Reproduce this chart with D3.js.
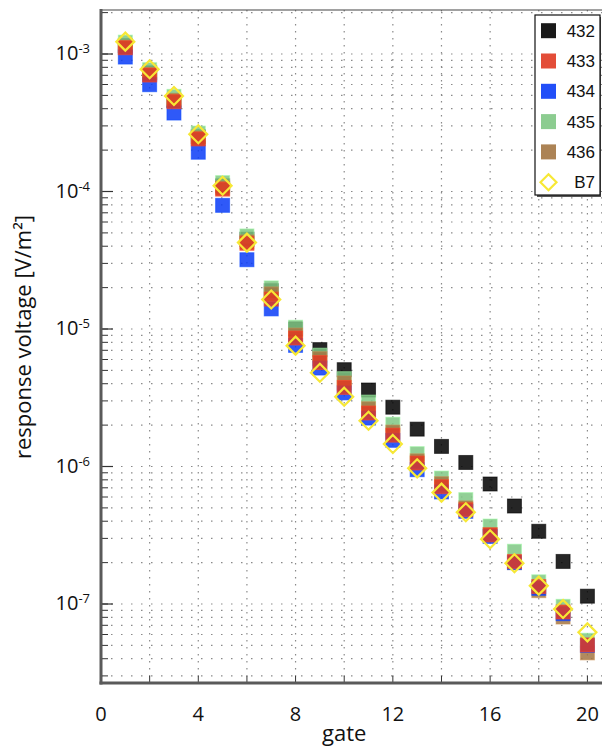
<!DOCTYPE html>
<html>
<head>
<meta charset="utf-8">
<script src="https://cdn.jsdelivr.net/npm/d3@7"></script>
<style>
  html, body { margin: 0; padding: 0; background: #fff; }
  svg { display: block; }
</style>
</head>
<body>
<svg id="chart" width="602" height="750"></svg>
<script>
// Gate numbers and the measured response per station
const gates = [1, 2, 3, 4, 5, 6, 7, 8, 9, 10, 11, 12, 13, 14, 15, 16, 17, 18, 19, 20];

const s432 = [1.15e-3, 7.3e-4, 4.6e-4, 2.5e-4, 1.1e-4, 4.5e-5, 1.9e-5, 1.0e-5, 7.08e-6, 5.06e-6,
              3.6e-6, 2.7e-6, 1.87e-6, 1.40e-6, 1.07e-6, 7.46e-7, 5.16e-7, 3.38e-7, 2.04e-7, 1.14e-7];
const s433 = [1.11e-3, 7.03e-4, 4.50e-4, 2.41e-4, 1.04e-4, 4.2e-5, 1.65e-5, 8.6e-6, 5.7e-6, 3.76e-6,
              2.45e-6, 1.69e-6, 1.06e-6, 7.13e-7, 4.85e-7, 3.18e-7, 2.04e-7, 1.34e-7, 8.75e-8, 5.04e-8];
const s434 = [9.5e-4, 5.98e-4, 3.72e-4, 1.93e-4, 7.93e-5, 3.19e-5, 1.40e-5, 7.6e-6, 5.2e-6, 3.43e-6,
              2.25e-6, 1.55e-6, 9.48e-7, 6.53e-7, 4.72e-7, 3.1e-7, 2.0e-7, 1.3e-7, 8.5e-8, 5.0e-8];
const s435 = [1.22e-3, 7.69e-4, 4.92e-4, 2.66e-4, 1.16e-4, 4.75e-5, 1.99e-5, 1.03e-5, 6.45e-6, 4.35e-6,
              2.94e-6, 2.03e-6, 1.24e-6, 8.24e-7, 5.74e-7, 3.69e-7, 2.42e-7, 1.45e-7, 9.62e-8, 5.45e-8];
const s436 = [1.12e-3, 7.1e-4, 4.6e-4, 2.45e-4, 1.06e-4, 4.3e-5, 1.80e-5, 9.04e-6, 6.08e-6, 4.05e-6,
              2.63e-6, 1.78e-6, 1.1e-6, 7.5e-7, 5.0e-7, 3.2e-7, 2.0e-7, 1.25e-7, 8.04e-8, 4.41e-8];
const sB7  = [1.23e-3, 7.74e-4, 4.95e-4, 2.61e-4, 1.10e-4, 4.25e-5, 1.64e-5, 7.57e-6, 4.81e-6, 3.22e-6,
              2.15e-6, 1.46e-6, 9.7e-7, 6.46e-7, 4.65e-7, 2.96e-7, 1.98e-7, 1.36e-7, 9.2e-8, 6.22e-8];

const legendNames = ["432", "433", "434", "435", "436", "B7"];
const xTickLabels = [0, 4, 8, 12, 16, 20];
const yDecades = [-3, -4, -5, -6, -7];

// Series in drawing order (bottom layer first)
const series = [
  { name: "432", values: s432, color: "#000000", kind: "square" },
  { name: "435", values: s435, color: "#7fc784", kind: "square" },
  { name: "436", values: s436, color: "#a37543", kind: "square" },
  { name: "434", values: s434, color: "#0a3cf7", kind: "square" },
  { name: "433", values: s433, color: "#e03a22", kind: "square" },
  { name: "B7",  values: sB7,  color: "#f7e835", kind: "diamond" }
];
const seriesByName = {};
series.forEach(s => seriesByName[s.name] = s);

const svg = d3.select("#chart");
const plotL = 101, plotR = 602, plotT = 10, plotB = 683;

const x = d3.scaleLinear().domain([0, 20.6]).range([plotL, plotR]);
const y = d3.scaleLog().domain([Math.pow(10, -7.5745), Math.pow(10, -2.68)]).range([plotB, plotT]);

// Minor tick values: 1..9 x 10^k over the visible range
const minorVals = [];
for (let e = -8; e <= -3; e++) {
  for (let m = 1; m <= 9; m++) {
    const v = m * Math.pow(10, e);
    if (v >= y.domain()[0] && v <= y.domain()[1]) minorVals.push(v);
  }
}

// Dotted grid
const grid = svg.append("g").attr("class", "grid");
grid.selectAll("line.h").data(minorVals).join("line")
  .attr("x1", plotL).attr("x2", plotR)
  .attr("y1", d => y(d)).attr("y2", d => y(d))
  .attr("stroke", "#8a8a8a").attr("stroke-width", 1.2)
  .attr("stroke-dasharray", "1.5,8.5");
const xGridVals = d3.range(2, 21, 2);
grid.selectAll("line.v").data(xGridVals).join("line")
  .attr("x1", d => x(d)).attr("x2", d => x(d))
  .attr("y1", plotT).attr("y2", plotB)
  .attr("stroke", "#8a8a8a").attr("stroke-width", 1.2)
  .attr("stroke-dasharray", "1.5,5.5");

// Markers
const size = 14;
series.forEach(s => {
  const g = svg.append("g").attr("class", "series-" + s.name);
  const pts = gates.map((gt, i) => ({ g: gt, v: s.values[i] }));
  if (s.kind === "square") {
    g.selectAll("rect").data(pts).join("rect")
      .attr("x", d => x(d.g) - size / 2)
      .attr("y", d => y(d.v) - size / 2)
      .attr("width", size).attr("height", size)
      .attr("fill", s.color).attr("fill-opacity", 0.85)
      .attr("stroke", d3.color(s.color).brighter(0.6)).attr("stroke-opacity", 0.6)
      .attr("stroke-width", 1);
  } else {
    const r = 9;
    g.selectAll("path").data(pts).join("path")
      .attr("d", d => {
        const cx = x(d.g), cy = y(d.v);
        return `M${cx},${cy - r}L${cx + r},${cy}L${cx},${cy + r}L${cx - r},${cy}Z`;
      })
      .attr("fill", "none").attr("stroke", s.color).attr("stroke-width", 2.2);
  }
});

// Axes
const yMajor = yDecades.map(e => Math.pow(10, e));
const axisL = svg.append("g");
axisL.selectAll("line.minor").data(minorVals).join("line")
  .attr("x1", plotL).attr("x2", plotL + 7)
  .attr("y1", d => y(d)).attr("y2", d => y(d))
  .attr("stroke", "#333").attr("stroke-width", 1);
axisL.selectAll("line.major").data(yMajor).join("line")
  .attr("x1", plotL).attr("x2", plotL + 12)
  .attr("y1", d => y(d)).attr("y2", d => y(d))
  .attr("stroke", "#333").attr("stroke-width", 1.2);

const axisB = svg.append("g");
axisB.selectAll("line").data(d3.range(2, 21, 2)).join("line")
  .attr("x1", d => x(d)).attr("x2", d => x(d))
  .attr("y1", plotB).attr("y2", plotB - 7)
  .attr("stroke", "#333").attr("stroke-width", 1);

// Frame
svg.append("line").attr("x1", plotL).attr("x2", plotR).attr("y1", plotT).attr("y2", plotT)
  .attr("stroke", "#444").attr("stroke-width", 1.2);
svg.append("line").attr("x1", plotL).attr("x2", plotL).attr("y1", plotT - 1).attr("y2", plotB + 1.5)
  .attr("stroke", "#5a5a5a").attr("stroke-width", 3);
svg.append("line").attr("x1", plotL - 1.5).attr("x2", plotR).attr("y1", plotB).attr("y2", plotB)
  .attr("stroke", "#5a5a5a").attr("stroke-width", 3);

// Tick labels
const labelFont = "'Open Sans', 'Noto Sans', sans-serif";
svg.append("g").selectAll("text").data(xTickLabels).join("text")
  .attr("x", d => x(d)).attr("y", 721)
  .attr("text-anchor", "middle")
  .attr("font-family", labelFont).attr("font-size", 20).attr("fill", "#111")
  .text(d => d);

const yl = svg.append("g").selectAll("text").data(yDecades).join("text")
  .attr("x", 90).attr("y", d => y(Math.pow(10, d)) + 6)
  .attr("text-anchor", "end")
  .attr("font-family", labelFont).attr("font-size", 20).attr("fill", "#111");
yl.append("tspan").text("10");
yl.append("tspan").attr("dy", -7).attr("font-size", 13).text(d => "-" + Math.abs(d));

// Axis titles
svg.append("text").attr("x", x(10)).attr("y", 741)
  .attr("text-anchor", "middle")
  .attr("font-family", labelFont).attr("font-size", 22).attr("fill", "#111")
  .text("gate");
svg.append("text")
  .attr("transform", `translate(31, 337) rotate(-90)`)
  .attr("text-anchor", "middle")
  .attr("font-family", labelFont).attr("font-size", 22).attr("fill", "#111")
  .text("response voltage [V/m²]");

// Legend
const lg = svg.append("g");
lg.append("rect").attr("x", 537).attr("y", 17).attr("width", 64).attr("height", 180)
  .attr("fill", "#555");
lg.append("rect").attr("x", 535).attr("y", 15).attr("width", 65).attr("height", 180)
  .attr("fill", "#fff").attr("stroke", "#111").attr("stroke-width", 1.2);
legendNames.forEach((n, i) => {
  const s = seriesByName[n];
  const cy = 30.7 + i * 30.3;
  if (s.kind === "square") {
    lg.append("rect").attr("x", 541).attr("y", cy - 7.5).attr("width", 15).attr("height", 15)
      .attr("fill", s.color).attr("fill-opacity", 0.9);
  } else {
    const r = 8;
    lg.append("path")
      .attr("d", `M548.5,${cy - r}L${548.5 + r},${cy}L548.5,${cy + r}L${548.5 - r},${cy}Z`)
      .attr("fill", "none").attr("stroke", s.color).attr("stroke-width", 2.2);
  }
  lg.append("text").attr("x", 595).attr("y", cy + 6)
    .attr("text-anchor", "end")
    .attr("font-family", "'Liberation Sans', Arial, sans-serif").attr("font-size", 17)
    .attr("fill", "#111").text(n);
});
</script>
</body>
</html>
